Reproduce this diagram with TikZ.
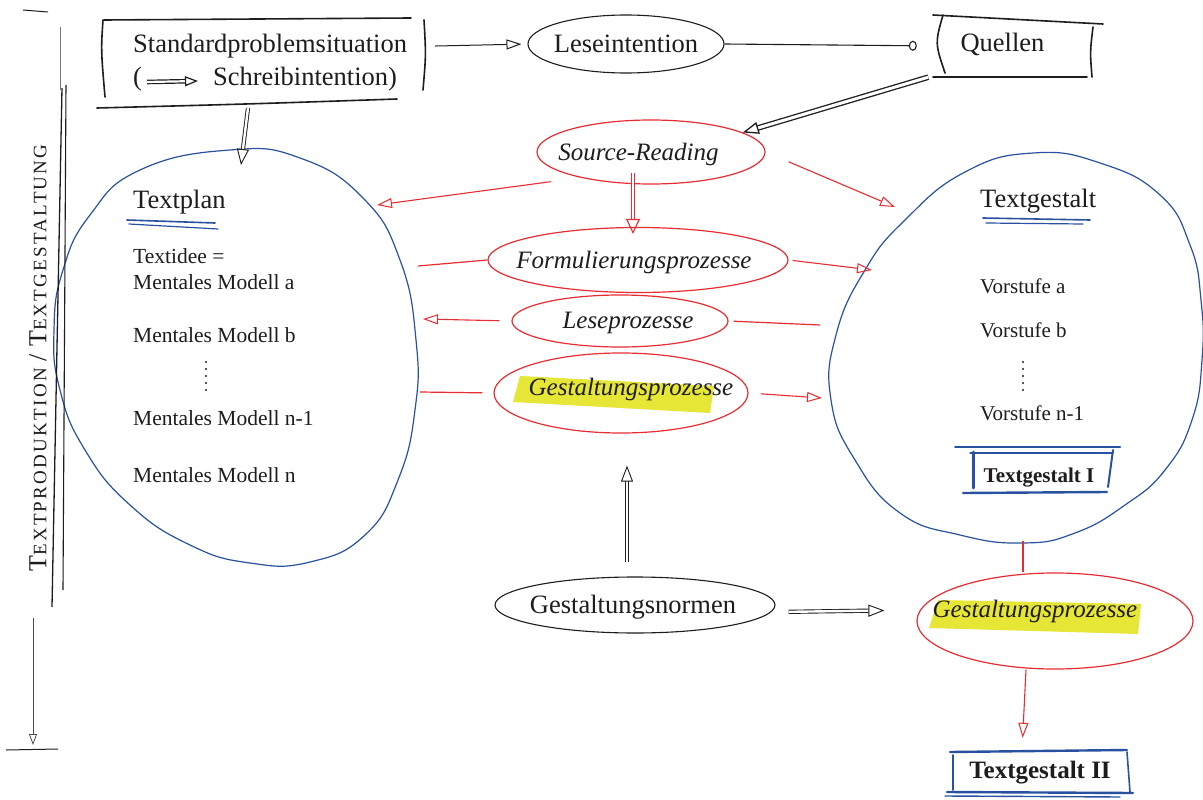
\documentclass[tikz,border=0pt]{standalone}
\usepackage{fontspec}
\setmainfont{Liberation Serif}
\usetikzlibrary{arrows.meta,shapes.geometric,calc}
\definecolor{myred}{RGB}{232,45,50}
\definecolor{myblue}{RGB}{40,82,160}
\definecolor{hl}{RGB}{230,230,55}
\definecolor{ink}{RGB}{30,28,30}
\newcommand\Bg[1]{{\fontsize{26}{26}\selectfont #1}}
\newcommand\Sm[1]{{\fontsize{19}{26}\selectfont\addfontfeature{LetterSpace=12}#1}}
\newcommand\tx[2]{\makebox[0pt]{\hspace*{#1}#2}}
\tikzset{
  big/.style={font=\fontsize{26.5}{30}\selectfont, text=ink, inner sep=0pt},
  itl/.style={font=\fontsize{25}{30}\selectfont\itshape, text=ink, inner sep=0pt},
  lst/.style={font=\fontsize{21.5}{26}\selectfont, text=ink, inner sep=0pt, anchor=base west},
  redell/.style={ellipse, draw=myred, line width=1.2pt, itl},
  blkell/.style={ellipse, draw=ink, line width=1.1pt, big},
  tipo/.style={-{Triangle[open, length=15pt, width=10pt, line width=1pt]}},
  redarr/.style={draw=myred, line width=1.1pt, tipo},
  redline/.style={draw=myred, line width=1.2pt},
  blkarr/.style={draw=ink, line width=1pt, tipo},
  dblarr/.style={draw=ink, double=white, double distance=2.4pt, line width=0.9pt, -{Triangle[open, length=16pt, width=12pt]}},
  sketch/.style={draw=ink, line width=1.6pt, line cap=round},
  marker/.style={draw=myblue, line width=2pt, line cap=round},
  bigshape/.style={draw=myblue, line width=1.2pt}
}
\begin{document}
\begin{tikzpicture}[x=1pt,y=-1pt]
\useasboundingbox (0,0) rectangle (1203,800);
\fill[white] (0,0) rectangle (1203,800);

% highlights
\fill[hl] (520,376) -- (714,386) -- (710,413) -- (513,402) -- cycle;
\fill[hl] (938,600) -- (1141,604) -- (1138,634) -- (929,628) -- cycle;

% large shapes
\draw[bigshape] plot[smooth cycle, tension=0.8] coordinates {(230,150) (300,158) (363,198) (400,260) (416,340) (415,410) (398,480) (365,535) (310,562) (250,563) (190,545) (130,505) (85,450) (60,390) (54,330) (63,270) (90,215) (140,170)};
\draw[bigshape] plot[smooth cycle, tension=0.8] coordinates {(1033,153) (1100,163) (1160,195) (1190,245) (1201,300) (1202,360) (1192,420) (1165,470) (1125,505) (1075,533) (1023,543) (960,535) (900,513) (855,460) (831,400) (836,335) (865,270) (905,220) (965,172)};

% named points on sketched shapes
\coordinate (stdbot) at (248,108);
\coordinate (planTop) at (241,165);
\coordinate (planSR) at (377,205);
\coordinate (planR1) at (418,266);
\coordinate (planR2) at (423,319);
\coordinate (planR3) at (420,392);
\coordinate (tgSR) at (895,207);
\coordinate (tgL1) at (872,270);
\coordinate (tgL2) at (820,325);
\coordinate (tgL3) at (822,398);
\coordinate (tgB) at (1023,541);

% vertical label and lines
\node[rotate=90, text=ink, inner sep=0pt] (vlab) at (38,358) {\Bg{T}\Sm{EXTPRODUKTION}\hspace{7pt}\Bg{/}\hspace{7pt}\Bg{T}\Sm{EXTGESTALTUNG}};
\draw[ink, line width=1pt] (23,10) -- (48,12);
\draw[ink!60, line width=0.6pt] (60,27) -- (60,90);
\draw[ink, line width=1.3pt] (62,88) -- (52,607);
\draw[ink, line width=1.1pt] (66,85) -- (63,590);
\coordinate (vtop) at (33,618);
\coordinate (vbot) at (33,745);
\draw[ink!80, line width=0.8pt, -{Triangle[open, length=11pt, width=8pt]}] (vtop) -- (vbot);
\draw[ink, line width=1pt] (6,750) -- (58,749);

% Standardproblemsituation box
\node[big, anchor=base west] (std1) at (133,53) {Standardproblemsituation};
\node[big, anchor=base west] (std2) at (133,85) {(\hspace{71pt}Schreibintention)};
\draw[sketch] (104,20) -- (411,18);
\draw[sketch] (103,20) .. controls (101,50) .. (105,97);
\draw[sketch] (424,20) .. controls (426,55) .. (423,90);
\draw[sketch] (97,108) .. controls (250,104) .. (397,99);
\coordinate (ia) at (147,82);
\coordinate (ib) at (198,81);
\draw[dblarr, line width=1.2pt, double distance=2.2pt, -{Triangle[open, length=13pt, width=10pt]}] (ia) -- (ib);

% Leseintention, Quellen
\node[blkell, minimum width=196pt, minimum height=58pt, text height=24pt, text depth=6pt] (lese) at (626,44) {\tx{0pt}{Leseintention}};
\node[big, minimum width=152pt, minimum height=60pt, text height=20pt, text depth=8pt] (quel) at (1016,46) {\tx{-27pt}{Quellen}};
\draw[sketch] (933,15) -- (1103,24);
\draw[sketch] (943,15) .. controls (935,43) .. (945,73);
\draw[sketch] (1093,27) .. controls (1090,52) .. (1092,77);
\draw[sketch] (933,77) -- (1087,77);

% red process ellipses
\node[redell, minimum width=228pt, minimum height=64pt, text height=22pt, text depth=6pt] (sr) at (651,152) {\tx{-25pt}{Source-Reading}};
\node[redell, minimum width=300pt, minimum height=65pt, text height=22pt, text depth=6pt] (fp) at (638,260) {\tx{-8pt}{Formulierungsprozesse}};
\node[redell, minimum width=216pt, minimum height=52pt, text height=20pt, text depth=6pt] (lp) at (620,321) {\tx{16pt}{Leseprozesse}};
\node[redell, minimum width=254pt, minimum height=80pt, text height=18pt, text depth=14pt] (gp) at (621,393) {\tx{20pt}{Gestaltungsprozesse}};
\node[blkell, minimum width=280pt, minimum height=56pt, text height=22pt, text depth=6pt] (norm) at (635,605) {\tx{-4pt}{Gestaltungsnormen}};
\node[redell, minimum width=276pt, minimum height=96pt, text height=17pt, text depth=25pt] (gp2) at (1055,621) {\tx{-40pt}{Gestaltungsprozesse}};

% Textplan contents
\node[big, anchor=base west] (tplan) at (133,208) {Textplan};
\draw[myblue, line width=1.6pt, line cap=round] (127,220) -- (215,223);
\draw[myblue, line width=1.2pt, line cap=round] (129,224) -- (218,229);
\node[lst] (ti) at (133,263) {Textidee =};
\node[lst] (ma) at (133,289) {Mentales Modell a};
\node[lst] (mb) at (133,342) {Mentales Modell b};
\foreach \y in {362,369,376,383,390} \fill[ink] (206,\y) circle (1.2pt);
\node[lst] (mn1) at (133,425) {Mentales Modell n-1};
\node[lst] (mn) at (133,482) {Mentales Modell n};

% Textgestalt contents
\node[big, anchor=base west] (tgest) at (980,207) {Textgestalt};
\draw[myblue, line width=1.6pt, line cap=round] (983,218) -- (1090,220);
\draw[myblue, line width=1.2pt, line cap=round] (986,223) -- (1083,224);
\node[lst, font=\fontsize{21}{26}\selectfont] (va) at (980,293) {Vorstufe a};
\node[lst, font=\fontsize{21}{26}\selectfont] (vb) at (980,337) {Vorstufe b};
\foreach \y in {362,369,376,383,390} \fill[ink] (1023,\y) circle (1.2pt);
\node[lst, font=\fontsize{21}{26}\selectfont] (vn1) at (980,420) {Vorstufe n-1};

% Textgestalt I box
\node[text=ink, inner sep=0pt, font=\fontsize{21}{26}\selectfont\bfseries, minimum width=163pt, minimum height=45pt, text height=26pt, text depth=2pt] (tg1) at (1038,470) {\tx{2pt}{Textgestalt I}};
\draw[marker] (955,447) -- (1120,447);
\draw[marker, line width=1.3pt] (970,453) -- (1113,453);
\draw[marker, line width=2.4pt] (963,493) -- (1107,492);
\draw[marker, line width=3pt] (973,452) -- (973,488);
\draw[marker] (1113,450) -- (1108,487);

% Textgestalt II box
\node[text=ink, inner sep=0pt, font=\fontsize{25}{30}\selectfont\bfseries, minimum width=186pt, minimum height=42pt, text height=20pt, text depth=8pt] (tg2) at (1040,772) {\tx{0pt}{Textgestalt II}};
\draw[marker, line width=2.4pt] (950,752) -- (1127,750);
\draw[marker, line width=2.4pt] (947,792) -- (1133,793);
\draw[marker, line width=1.4pt] (945,796) -- (1120,797);
\draw[marker, line width=1.6pt] (953,755) -- (953,790);
\draw[marker, line width=1.6pt] (1127,752) -- (1130,792);

% black connectors
\draw[blkarr, shorten <=28pt, shorten >=6pt] (std1.east) -- (lese.west);
\draw[draw=ink, line width=1.1pt, -{Circle[open, length=8pt, width=10pt, line width=1.1pt]}, shorten >=23pt] (lese.east) -- (quel.west);
\draw[dblarr, line width=1.3pt, double distance=3pt, shorten <=12pt] (quel.200) -- (sr.12);
\draw[dblarr] (stdbot) -- (planTop);
\draw[dblarr, shorten <=14pt, shorten >=32pt] ($(norm.north)+(-8,0)$) -- ($(gp.south)+(6,0)$);
\draw[dblarr, shorten <=13pt, shorten >=32pt] ($(norm.east)+(0,7)$) -- ($(gp2.west)+(0,-11)$);

% red connectors
\draw[redarr, shorten <=30pt] (sr.200) -- (planSR);
\draw[redarr, shorten <=25pt] (sr.east) -- (tgSR);
\draw[draw=myred, double=white, double distance=2.5pt, line width=1.1pt, -{Triangle[open, length=15pt, width=14pt]}] ($(sr.south)+(-18,-12)$) -- ($(fp.north)+(-5,7)$);
\draw[redline] (planR1) -- (fp.west);
\draw[redarr, shorten <=4pt] (fp.east) -- (tgL1);
\draw[redarr, shorten <=12pt] (lp.west) -- (planR2);
\draw[redline, shorten >=5pt] (tgL2) -- (lp.east);
\draw[redline, shorten >=11pt] (planR3) -- (gp.west);
\draw[redarr, shorten <=12pt] (gp.east) -- (tgL3);
\draw[redline] (tgB) -- (tgB |- gp2.north);
\draw[redarr, shorten >=13pt] ($(gp2.south)+(-29,0)$) -- ($(tg2.north)+(-18,0)$);
\end{tikzpicture}
\end{document}
